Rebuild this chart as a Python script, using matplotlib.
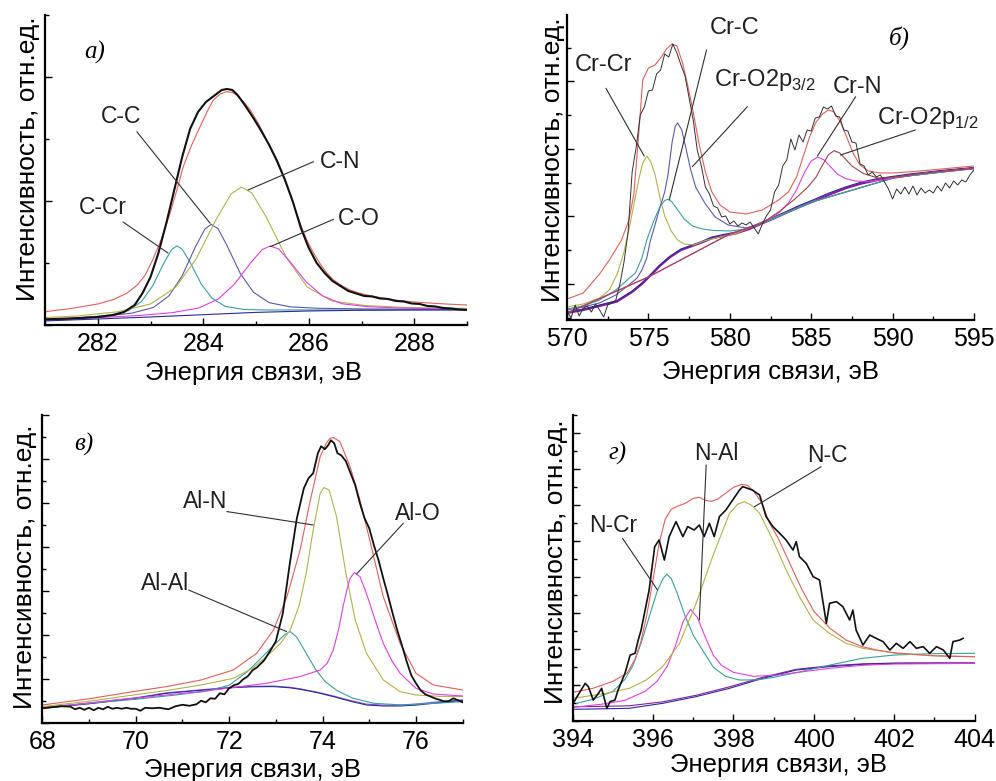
import numpy as np
import matplotlib
matplotlib.use('Agg')
import matplotlib.pyplot as plt
from matplotlib.ticker import MultipleLocator, FixedLocator

plt.rcParams['font.family'] = ['Liberation Sans', 'DejaVu Sans']
plt.rcParams['mathtext.fontset'] = 'custom'
plt.rcParams['mathtext.rm'] = 'Liberation Sans'

# ---------------- panel a) C1s ----------------
A_EXP_E = [281.0, 281.5, 282.0, 282.3, 282.5, 282.7, 282.85, 283.0, 283.15, 283.3, 283.45, 283.6, 283.75,
           283.9, 284.05, 284.2, 284.35, 284.45, 284.55, 284.65, 284.8, 284.95, 285.1, 285.25, 285.4, 285.55,
           285.7, 285.85, 286.0, 286.15, 286.3, 286.45, 286.6, 286.75, 286.9, 287.05, 287.2, 287.35, 287.5,
           287.65, 287.8, 287.95, 288.1, 288.25, 288.4, 288.55, 288.7, 288.85, 289.0]
A_EXP = [5.7, 6.5, 8, 10, 13, 20, 32, 48, 72, 102, 135, 168, 196, 213, 223, 229, 235, 236, 235, 230, 219, 207,
         194, 180, 164, 145, 123, 97, 77, 62, 52, 44, 39, 34, 31.5, 29, 28.5, 26.5, 26, 24, 23.5, 21.5, 21, 19,
         18.5, 17, 16.5, 15.5, 15]
A_FIT_E = [281, 281.5, 282, 282.3, 282.55, 282.75, 282.9, 283.05, 283.2, 283.37, 283.5, 283.62, 283.78, 283.94,
           284.07, 284.19, 284.32, 284.44, 284.55, 284.63, 284.76, 284.89, 285.05, 285.2, 285.36, 285.52, 285.65,
           285.77, 285.87, 285.96, 286.08, 286.21, 286.34, 286.47, 286.62, 286.78, 286.95, 287.1, 287.4, 287.73,
           288.05, 288.36, 288.7, 289]
A_FIT = [13.3, 16.5, 21, 25.5, 31.7, 40, 50, 66, 85, 111.7, 135, 158.3, 180, 198.3, 213, 225, 231, 233.3, 232.5,
         230, 223.5, 215, 201, 185, 167, 148.3, 130, 111.7, 97, 85, 73, 61.7, 52, 45, 39.5, 35, 32, 30, 27, 24.3,
         22.8, 21.7, 20.7, 20]
A_BG_E = [281, 282, 283, 284, 285, 286, 287, 288, 289]
A_BG = [4, 6, 8, 10.3, 12.6, 14, 14.7, 15, 15]
A_CCR_E = [281, 281.82, 282.24, 282.58, 282.83, 283.04, 283.25, 283.4, 283.5, 283.6, 283.75, 283.96, 284.17,
           284.42, 284.76, 285.18, 286.02, 289]
A_CCR = [5.0, 7.7, 10.1, 14.4, 23.5, 39, 61.6, 75.4, 79.1, 75.8, 62.7, 41.1, 26.5, 18.5, 15.6, 15, 15, 15.2]
A_CC_E = [281, 282.15, 282.65, 283.05, 283.35, 283.6, 283.85, 284.03, 284.15, 284.28, 284.45, 284.7, 284.95,
          285.25, 285.65, 286.15, 287.15, 289]
A_CC = [5.1, 9.0, 11.9, 17.4, 29.1, 49.2, 78, 95.9, 100.6, 96.4, 79.4, 51.7, 32.8, 22.3, 18.1, 16.75, 16, 15.5]
A_CN_E = [281, 281.6, 282.38, 283.0, 283.47, 283.86, 284.25, 284.53, 284.72, 284.92, 285.19, 285.58, 285.97,
          286.44, 287.06, 287.84, 289]
A_CN = [7.5, 8.9, 13.2, 21, 37.4, 65.6, 106.2, 131.2, 137.9, 132.1, 108.3, 67, 38, 24, 19.5, 17.5, 16.5]
A_CO_E = [281, 281.55, 282.79, 283.41, 283.91, 284.28, 284.59, 284.9, 285.12, 285.27, 285.43, 285.64, 285.95,
          286.26, 286.63, 287.13, 287.75, 289]
A_CO = [4.7, 6.0, 9.5, 12.3, 16.9, 25.8, 40.8, 62.3, 75.5, 79, 76, 63.6, 43.1, 29.1, 21.2, 18.2, 16.9, 15.8]

# ---------------- panel б) Cr2p ----------------
B_EXP_E = np.arange(570.0, 595.01, 0.25)
B_EXP = [9, 2, 15, 4, 12, 14, 8, 16, 10, 3, 15, 17, 20, 36, 58, 88, 148, 173, 205, 213, 229, 230, 246, 250,
         266, 263, 276, 267, 255, 244, 222, 200, 170, 154, 133, 126, 114, 112, 103, 104, 96, 99, 94, 97, 95,
         98, 92, 86, 96, 104, 110, 128, 135, 154, 160, 181, 170, 185, 178, 190, 189, 202, 203, 213, 211, 214,
         204, 203, 190, 189, 178, 177, 156, 154, 145, 148, 143, 145, 138, 131, 121, 131, 126, 133, 126, 134,
         125, 132, 127, 130, 127, 134, 129, 137, 132, 139, 135, 140, 138, 145, 150]
B_FIT_E = [570, 571, 572, 572.6, 573.35, 573.8, 574.1, 574.4, 574.65, 575.0, 575.4, 575.8, 576.1, 576.45, 576.75,
           577.1, 577.45, 577.75, 578.1, 578.5, 578.9, 579.4, 580, 581, 582, 583, 583.6, 584.1, 584.5, 584.9,
           585.3, 585.7, 586.05, 586.4, 586.8, 587.2, 587.6, 588.0, 588.5, 589.2, 590, 591.2, 593, 595]
B_FIT = [21, 27, 46, 60, 80, 100, 125, 185, 240, 252, 255, 263, 271, 276, 274, 257, 232, 208, 177, 148, 128, 115,
         108, 106, 110, 120, 128, 143, 163, 183, 198, 206, 210, 208, 198, 182, 166, 155, 149, 147, 147, 148.3,
         151, 154]
B_BG_E = [570, 571, 572, 573.05, 574, 574.6, 575.1, 575.7, 576.3, 577.0, 578.2, 578.9, 579.6, 580.4, 581.2, 582,
          582.7, 583.4, 584.2, 585.1, 586.1, 587.1, 588.1, 589.1, 590.2, 591.2, 593, 595]
B_BG = [7, 10, 14, 18.3, 28, 36, 44, 54, 62.5, 70, 77, 81.7, 84, 86.7, 91, 96.7, 101.5, 106.7, 112.5, 118.3,
        125.3, 131.7, 136.5, 140, 142.7, 145, 148.5, 151.7]
B_BG2 = [8, 11, 15, 19.3, 29, 37, 45, 55, 63.5, 71, 78, 83, 85.5, 88, 92.5, 98, 103, 108, 114, 120, 127, 133,
         138, 141.5, 144, 146.3, 149.5, 152.5]
B_CRCR_E = [570, 571, 572, 572.6, 573.1, 573.5, 573.8, 574.1, 574.4, 574.65, 574.9, 575.15, 575.4, 575.7, 576.0,
            576.4, 576.8, 577.2, 577.8, 578.5, 580.4, 585.1, 590.2, 595]
B_CRCR = [13, 16, 22, 30, 46.7, 68, 90, 115, 140, 157, 164, 158, 146, 123, 104, 89, 80, 76, 75, 79.5, 86.7,
          118.3, 142.7, 151.7]
B_CRC_E = [570, 571, 572, 573, 573.8, 574.3, 574.6, 574.9, 575.1, 575.4, 575.7, 576.0, 576.2, 576.45, 576.65,
           576.8, 577.05, 577.3, 577.6, 577.9, 578.5, 579.1, 579.9, 581, 582, 585.1, 590.2, 595]
B_CRC = [10, 13, 17, 25, 35, 42, 50, 62, 78, 95, 112, 128, 145, 177, 194, 197, 190, 172, 150, 133, 116, 103, 95,
         92, 96.7, 118.3, 142.7, 151.7]
B_CRO32_E = [570, 571, 572, 573, 573.7, 574.2, 574.6, 574.9, 575.3, 575.7, 576.0, 576.2, 576.45, 576.8, 577.2,
             577.7, 578.3, 579, 580, 581, 582, 585.1, 590.2, 595]
B_CRO32 = [11, 14, 20, 30, 40, 47, 62, 80, 98, 113, 119.5, 120.7, 118, 110, 101, 94, 91, 89.5, 89, 91, 96.7,
           118.3, 142.7, 151.7]
B_CRN_E = [570, 575, 580, 582, 583, 583.6, 584.1, 584.6, 585.0, 585.4, 585.8, 586.2, 586.6, 587.1, 587.7, 588.5,
           589.3, 590.2, 592, 595]
B_CRN = [7, 43, 86, 97, 107, 117, 130, 148, 159, 163, 160, 153, 146, 141.5, 139, 138.5, 140, 142.7, 147, 151.7]
B_CRO12_E = [570, 575, 580, 582, 583, 584, 584.8, 585.3, 585.7, 586.05, 586.4, 586.75, 587.1, 587.5, 588.2,
             589.15, 590.2, 592, 595]
B_CRO12 = [7, 43, 86, 97, 108, 121, 133, 143, 155, 165, 169.3, 167, 161, 154, 146.5, 141.7, 143, 147, 151.7]

# ---------------- panel в) Al2p ----------------
C_EXP_E = [68.0, 68.2, 68.4, 68.6, 68.7, 68.8, 68.9, 69.0, 69.1, 69.2, 69.3, 69.4, 69.5, 69.6, 69.7, 69.8, 69.9,
           70.0, 70.1, 70.2, 70.35, 70.5, 70.7, 70.85, 71.0, 71.15, 71.3, 71.4, 71.5, 71.6, 71.7, 71.8, 71.9,
           72.0, 72.1, 72.2, 72.3, 72.4, 72.5, 72.6, 72.75, 72.9, 73.0, 73.15, 73.3, 73.45, 73.6, 73.7, 73.8,
           73.9, 73.97, 74.05, 74.12, 74.18, 74.25, 74.32, 74.4, 74.5, 74.6, 74.7, 74.8, 74.9, 75.0, 75.1, 75.2,
           75.3, 75.4, 75.5, 75.6, 75.7, 75.8, 75.9, 76.0, 76.1, 76.2, 76.4, 76.6, 76.7, 76.8, 76.9, 77.0]
C_EXP = [15, 16, 17, 16.7, 14, 15.5, 13.5, 15.5, 13, 15.5, 14, 16.5, 14.5, 15.5, 14.5, 15.5, 14.5, 14.5, 12.5,
         15.5, 15, 15.5, 14, 17, 18.5, 17.5, 19, 22.5, 21, 25, 24.5, 30, 29, 35, 38, 39.5, 44, 47, 53, 56, 63, 74,
         82, 110, 160, 205, 235, 245, 250, 270, 277, 274, 278, 283, 280, 270, 268, 262, 250, 238, 220, 205, 195,
         178, 163, 145, 128, 110, 93, 78, 62, 48, 40, 33, 29, 25, 22, 22, 25, 23, 21]
C_FIT_E = [68, 69, 69.95, 70.7, 71.4, 72.09, 72.59, 72.95, 73.24, 73.52, 73.74, 73.95, 74.08, 74.16, 74.23, 74.37,
           74.59, 74.8, 75.01, 75.3, 75.66, 76.0, 76.37, 77]
C_FIT = [18.3, 24.5, 31.7, 37, 43.3, 53.3, 70, 93.3, 126.7, 173.3, 223.3, 266.7, 280, 285, 285.7, 281.7, 256.7,
         223.3, 183.3, 126.7, 80, 50, 38.3, 33.3]
C_BG_E = [68, 69, 70, 70.66, 71.4, 72.09, 72.5, 72.95, 73.3, 73.52, 73.9, 74.23, 74.6, 74.94, 75.3, 75.66, 76.0,
          76.37, 77]
C_BG = [15, 19.5, 25, 30, 33, 35.7, 36.5, 36.7, 35.5, 34, 30.5, 26.7, 22, 18.3, 17.3, 17.3, 18.2, 20, 22.7]
C_BG2 = [15.5, 20, 25.5, 30.5, 33.5, 36.2, 37, 37.2, 36, 34.5, 31, 27.3, 22.8, 19.2, 18.2, 18.3, 19.2, 21,
         23.5]
C_ALAL_E = [68, 69, 70, 70.8, 71.5, 72.0, 72.4, 72.7, 73.0, 73.2, 73.31, 73.45, 73.65, 73.85, 74.05, 74.3, 74.65,
            75.1, 75.7, 76.4, 77]
C_ALAL = [16, 20, 24, 28, 32, 38, 52, 66, 80, 89, 91.7, 86, 70, 54, 42, 33, 25, 20, 18.3, 20, 21.7]
C_ALN_E = [68, 69, 69.95, 70.7, 71.4, 72.09, 72.5, 72.8, 73.1, 73.31, 73.5, 73.65, 73.8, 73.95, 74.03, 74.14,
           74.3, 74.5, 74.7, 74.94, 75.3, 75.66, 76.0, 76.5, 77]
C_ALN = [16.7, 22, 28.3, 33, 38.3, 45, 55, 66.7, 80, 93.3, 118, 150, 193.3, 230, 235.7, 233.3, 206.7, 150,
         103.3, 70, 43.3, 31.7, 28.3, 27, 26.7]
C_ALO_E = [68, 69.5, 71.4, 72.8, 73.52, 73.95, 74.1, 74.23, 74.35, 74.44, 74.52, 74.59, 74.68, 74.8, 74.9, 75.01,
           75.15, 75.3, 75.48, 75.66, 76.0, 76.37, 77]
C_ALO = [15, 23, 31.7, 40, 46.7, 53.3, 60, 73.3, 95, 116.7, 133, 145, 150.7, 146.7, 135, 120, 100, 80, 63, 50,
         35, 29.3, 27.3]

# ---------------- panel г) N1s ----------------
D_EXP_E = [394.01, 394.31, 394.39, 394.51, 394.64, 394.72, 394.85, 394.93, 395.05, 395.13, 395.3, 395.43,
           395.55, 395.63, 395.7, 395.9, 396.04, 396.15, 396.28, 396.4, 396.57, 396.74, 396.86, 397.02, 397.15,
           397.27, 397.4, 397.52, 397.65, 397.81, 397.98, 398.15, 398.23, 398.47, 398.65, 398.81, 398.98,
           399.15, 399.31, 399.48, 399.56, 399.64, 399.81, 399.98, 400.14, 400.31, 400.39, 400.56, 400.72,
           400.89, 400.97, 401.05, 401.22, 401.39, 401.55, 401.72, 401.89, 402.05, 402.22, 402.39, 402.55,
           402.72, 402.88, 403.05, 403.22, 403.38, 403.46, 403.63, 403.71]
D_EXP = [18, 38, 34.7, 21.3, 28, 33, 13, 19.7, 21.3, 31.3, 48, 66.3, 68, 81.3, 91, 131, 174.7, 181.3, 161.3,
         184.7, 199.7, 184.7, 194.7, 191.3, 196.3, 184.7, 198, 184.7, 204.7, 211.3, 221.3, 231.3, 234.7, 231.3,
         226.3, 204.7, 194.7, 188, 181.3, 171.3, 179.7, 164.7, 158, 144.7, 141.3, 98, 118, 119.7, 114.7, 101.3,
         111.3, 91.3, 76.3, 86.3, 83, 79.7, 71.3, 78, 73, 79.7, 73, 74.7, 68, 74.7, 71.3, 63, 79.7, 81.3, 83]
D_FIT_E = [394, 394.5, 395, 395.35, 395.55, 395.7, 395.85, 396.0, 396.15, 396.3, 396.45, 396.6, 396.8, 397.0,
           397.15, 397.3, 397.45, 397.6, 397.8, 398.0, 398.2, 398.35, 398.5, 398.7, 398.9, 399.1, 399.4, 399.7,
           400.0, 400.4, 400.8, 401.2, 401.6, 402, 403, 404]
D_FIT = [29, 33, 40, 48, 62, 80, 108, 142, 178, 202, 212, 215, 218, 223, 224, 221, 220, 222, 228, 234, 237, 236,
         230, 219, 198, 184, 158, 132, 110, 93, 81.3, 74.7, 71, 68.5, 65.5, 64.5]
D_BG_E = [394, 395.4, 396.24, 397.07, 397.9, 398.73, 399.56, 400.39, 401.22, 402.05, 403, 404]
D_BG = [12, 13, 18, 24.7, 33, 43, 51.3, 54.7, 57, 58, 58, 58]
D_BG2 = [14.5, 15.5, 19.5, 26, 34.5, 44, 52, 55.5, 57.5, 58.3, 58.5, 58.5]
D_NCR_E = [394.1, 394.5, 395.0, 395.3, 395.5, 395.7, 395.9, 396.1, 396.25, 396.34, 396.45, 396.6, 396.8, 397.0,
           397.25, 397.5, 397.8, 398.15, 398.6, 399, 399.6, 400.4, 401.2, 402, 403, 404]
D_NCR = [18, 22, 30, 42, 56, 78, 104, 130, 143, 147, 143, 128, 105, 86, 70, 54, 45, 41.3, 41.5, 44, 49, 56.3,
         63, 66.3, 67.7, 68]
D_NAL_E = [394, 394.7, 395.3, 395.8, 396.1, 396.35, 396.55, 396.75, 396.93, 397.1, 397.3, 397.5, 397.7, 398.0,
           398.5, 399.1, 399.8, 400.4, 401.2, 402, 404]
D_NAL = [14, 17, 21, 30, 40, 55, 75, 100, 112, 104, 84, 66, 56, 49, 45, 46.3, 50, 53, 56, 57.3, 58]
D_NC_E = [394, 394.83, 395.41, 395.83, 396.24, 396.66, 397.07, 397.48, 397.9, 398.1, 398.27, 398.45, 398.65,
          398.98, 399.31, 399.64, 399.98, 400.39, 400.8, 401.22, 402.05, 402.88, 404]
D_NC = [23, 28, 33, 41.3, 54.7, 78, 118, 164.7, 208, 217, 219.7, 216, 208, 181.3, 151.3, 124.7, 101.3, 88, 78,
        73, 68, 65.7, 64.7]

RED = '#e0605a'
BLACK = '#111111'
TEAL = '#3a9e9e'
NAVY = '#5a5aaa'
OLIVE = '#b4b04c'
MAGENTA = '#e040e0'
BLUE = '#2a2a9a'
BROWN = '#a04545'
PURPLE = '#8a1a9e'
LEAD = '#303030'

XLAB = 'Энергия связи, эВ'
YLAB = 'Интенсивность, отн.ед.'


def style(ax, xlim, ylim, xmaj, xmin, ymaj, ymin, ylab_xy, xlab_xy):
    ax.set_xlim(*xlim)
    ax.set_ylim(*ylim)
    for s in ('top', 'right'):
        ax.spines[s].set_visible(False)
    for s in ('left', 'bottom'):
        ax.spines[s].set_linewidth(1.6)
    ax.xaxis.set_major_locator(MultipleLocator(xmaj))
    ax.xaxis.set_minor_locator(MultipleLocator(xmin))
    ax.yaxis.set_major_locator(FixedLocator(ymaj))
    ax.yaxis.set_minor_locator(FixedLocator(ymin))
    ax.tick_params(which='both', direction='in', top=False, right=False, labelleft=False,
                   labelsize=18, pad=5, width=1)
    ax.tick_params(which='major', length=5)
    ax.tick_params(which='minor', length=3)
    ax.set_xlabel(XLAB, fontsize=18.5)
    ax.set_ylabel(YLAB, fontsize=19)
    ax.xaxis.set_label_coords(*xlab_xy)
    ax.yaxis.set_label_coords(*ylab_xy)


def label(ax, text, txy, p0, p1, fs=16.5, ha='center'):
    ax.text(txy[0], txy[1], text, fontsize=fs, ha=ha, va='center', color='#202020')
    ax.annotate('', xy=p1, xytext=p0,
                arrowprops=dict(arrowstyle='-', color=LEAD, lw=0.8, shrinkA=0, shrinkB=0))


def letter(ax, text, xy):
    ax.text(xy[0], xy[1], text, fontsize=18, style='italic', ha='center', va='center',
            family=['Liberation Serif', 'DejaVu Serif'])


fig = plt.figure(figsize=(9.96, 7.81), dpi=100)
axa = fig.add_axes([0.0452, 0.5839, 0.4237, 0.3969])
axb = fig.add_axes([0.5693, 0.5903, 0.4086, 0.3905])
axc = fig.add_axes([0.0425, 0.0739, 0.4220, 0.3948])
axd = fig.add_axes([0.5750, 0.0764, 0.4036, 0.3922])

# a)
lw = 0.8
axa.plot(A_CCR_E, A_CCR, color=TEAL, lw=lw)
axa.plot(A_CC_E, A_CC, color=NAVY, lw=lw)
axa.plot(A_CN_E, A_CN, color=OLIVE, lw=lw)
axa.plot(A_CO_E, A_CO, color=MAGENTA, lw=lw)
axa.plot(A_BG_E, A_BG, color=BLUE, lw=lw)
axa.plot(A_FIT_E, A_FIT, color=RED, lw=lw)
axa.plot(A_EXP_E, A_EXP, color=BLACK, lw=1.5)
style(axa, (281, 289), (0, 310), 2, 1, [0, 124, 248], [62, 186, 310], (-0.012, 0.535), (0.493, -0.117))
label(axa, 'C-Cr', (282.1, 117), (282.48, 103), (283.33, 72))
label(axa, 'C-C', (282.45, 208), (282.74, 193.3), (284.13, 101.7))
label(axa, 'C-N', (286.59, 163.3), (286.09, 163.3), (284.85, 135))
label(axa, 'C-O', (286.94, 106.7), (286.47, 105.7), (285.27, 78.3))
letter(axa, 'а)', (281.95, 273))

# б)
axb.plot(B_BG_E, B_BG, color=PURPLE, lw=1.6)
axb.plot(B_BG_E, B_BG2, color=BLUE, lw=0.8)
axb.plot(B_CRCR_E, B_CRCR, color=OLIVE, lw=lw)
axb.plot(B_CRC_E, B_CRC, color=NAVY, lw=lw)
axb.plot(B_CRO32_E, B_CRO32, color=TEAL, lw=lw)
axb.plot(B_CRN_E, B_CRN, color=MAGENTA, lw=lw)
axb.plot(B_CRO12_E, B_CRO12, color=BROWN, lw=lw)
axb.plot(B_FIT_E, B_FIT, color=RED, lw=lw)
axb.plot(B_EXP_E, B_EXP, color='#303030', lw=0.7)
style(axb, (570, 595), (0, 305), 5, 2.5, [36, 103.5, 171, 238.5], [2.25, 69.75, 137.25, 204.75, 272.25],
      (-0.004, 0.525), (0.501, -0.131))
label(axb, 'Cr-Cr', (572.23, 255), (572.39, 231.7), (574.74, 164), fs=17)
label(axb, 'Cr-C', (580.27, 291.7), (578.57, 270), (576.28, 120), fs=17)
label(axb, r'Cr-O2p$_\mathregular{3/2}$', (579.04, 240), (581.08, 213.3), (577.7, 153.3), fs=17, ha='left')
label(axb, 'Cr-N', (587.83, 233.3), (587.73, 223.3), (585.38, 164), fs=17)
label(axb, r'Cr-O2p$_\mathregular{1/2}$', (589.06, 201.7), (591.4, 190), (586.8, 165), fs=17, ha='left')
letter(axb, 'б)', (590.4, 281.7))

# в)
axc.plot(C_BG_E, C_BG2, color='#8a5ad0', lw=lw)
axc.plot(C_BG_E, C_BG, color=BLUE, lw=lw)
axc.plot(C_ALAL_E, C_ALAL, color=TEAL, lw=lw)
axc.plot(C_ALN_E, C_ALN, color=OLIVE, lw=lw)
axc.plot(C_ALO_E, C_ALO, color=MAGENTA, lw=lw)
axc.plot(C_FIT_E, C_FIT, color=RED, lw=lw)
axc.plot(C_EXP_E, C_EXP, color=BLACK, lw=1.3)
style(axc, (68, 77), (0, 308.3), 2, 1, list(np.arange(0, 309, 44)), list(np.arange(22, 309, 44)),
      (-0.013, 0.508), (0.5, -0.111))
label(axc, 'Al-N', (71.48, 221.7), (71.95, 211.7), (73.8, 198.3))
label(axc, 'Al-Al', (70.63, 140), (71.13, 133.3), (73.23, 91.7))
label(axc, 'Al-O', (76.05, 210), (75.73, 200), (74.73, 149.3))
letter(axc, 'в)', (68.88, 278.3))

# г)
axd.plot(D_BG_E, D_BG2, color=PURPLE, lw=lw)
axd.plot(D_BG_E, D_BG, color=BLUE, lw=lw)
axd.plot(D_NCR_E, D_NCR, color=TEAL, lw=lw)
axd.plot(D_NAL_E, D_NAL, color=MAGENTA, lw=lw)
axd.plot(D_NC_E, D_NC, color=OLIVE, lw=lw)
axd.plot(D_FIT_E, D_FIT, color=RED, lw=lw)
axd.plot(D_EXP_E, D_EXP, color=BLACK, lw=1.2)
style(axd, (394, 404), (0, 306.3), 2, 1, list(np.arange(0, 307, 36)), list(np.arange(18, 307, 36)),
      (-0.012, 0.521), (0.511, -0.104))
label(axd, 'N-Cr', (395.0, 196.3), (395.24, 183), (396.11, 131.3))
label(axd, 'N-Al', (397.58, 268), (397.32, 256.3), (397.15, 101.3))
label(axd, 'N-C', (400.34, 266.3), (400.18, 254.6), (398.52, 214.6))
letter(axd, 'г)', (395.12, 268))

fig.savefig('out.png', dpi=100)
